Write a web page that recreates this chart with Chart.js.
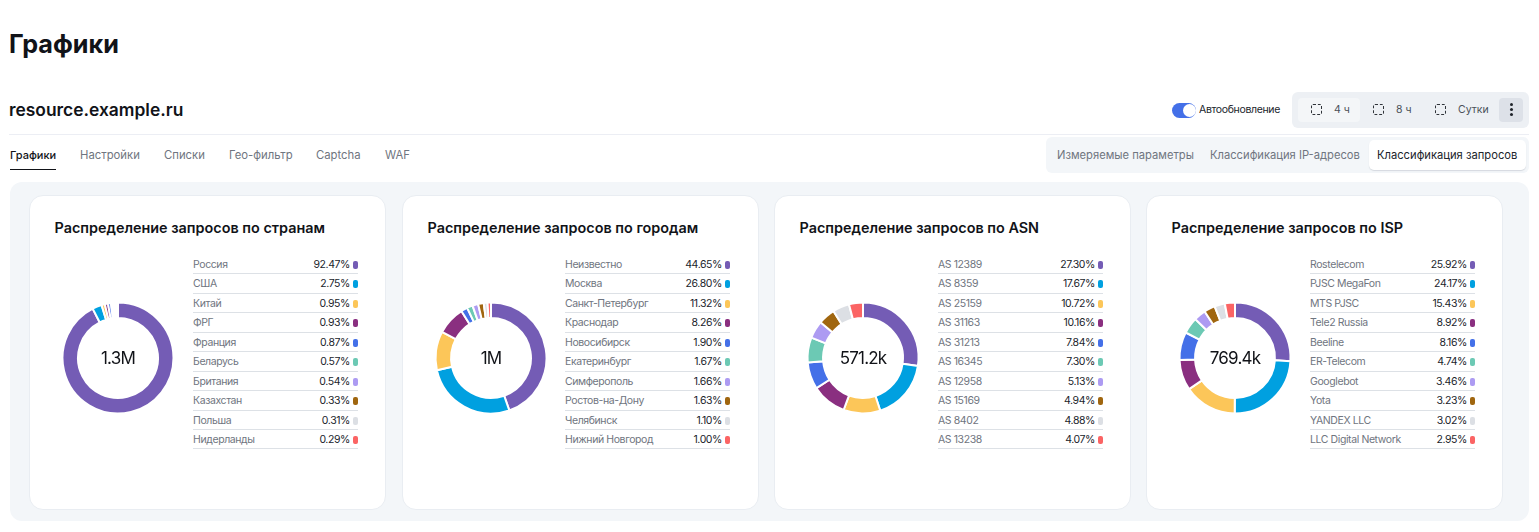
<!DOCTYPE html>
<html lang="ru">
<head>
<meta charset="utf-8">
<title>Графики</title>
<script src="https://cdn.jsdelivr.net/npm/chart.js@4"></script>
<style>
body { margin: 0; width: 1539px; height: 532px; overflow: hidden; background: #fff; font-family: Inter, "Noto Sans", sans-serif; color: #111318; position: relative; }
.abs { position: absolute; white-space: nowrap; }
.panel { left: 10px; top: 182px; width: 1519px; height: 339px; background: #f3f6f9; border-radius: 12px; }
.card { position: absolute; top: 195px; width: 355px; height: 313px; background: #fff; border: 1px solid #e9edf2; border-radius: 14px; }
.card h3 { position: absolute; left: 24.5px; top: 22px; margin: 0; font-size: 14.4px; font-weight: 600; line-height: 20px; white-space: nowrap; }
.card canvas { position: absolute; left: 30px; top: 101px; }
.total { position: absolute; left: 29px; top: 101px; width: 118px; height: 122px; line-height: 122px; text-align: center; font-size: 17px; letter-spacing: -0.8px; }
.legend { position: absolute; top: 59px; width: 165px; }
.row { height: 18.45px; border-bottom: 1px solid #dde1e6; font-size: 10.5px; letter-spacing: -0.4px; line-height: 19px; color: #6f7580; position: relative; }
.row b { position: absolute; right: 8px; top: 0; font-weight: 400; color: #20242b; }
.row i { position: absolute; right: 0; top: 6px; width: 5px; height: 8px; border-radius: 2px; }
.tab { font-size: 11.3px; color: #6f7580; top: 148px; }
.seg { font-size: 11.2px; color: #6f7580; top: 148px; }
.ico { top: 104px; width: 9px; height: 9px; border: 1px dashed #30343a; border-radius: 2px; }
.btn { top: 103px; font-size: 10.5px; color: #4b5058; }
</style>
</head>
<body>
<div class="abs" style="left:9px;top:27px;font-size:25.2px;font-weight:700;line-height:34px">Графики</div>
<div class="abs" style="left:9px;top:98px;font-size:17.4px;font-weight:600;line-height:24px">resource.example.ru</div>
<div class="abs" style="left:9px;top:134px;width:1520px;height:1px;background:#eceef4"></div>

<div class="abs tab" style="left:10px;color:#111318;font-weight:500;font-size:11px">Графики</div>
<div class="abs" style="left:10px;top:169px;width:46px;height:1px;background:#111318"></div>
<div class="abs tab" style="left:80px">Настройки</div>
<div class="abs tab" style="left:164px">Списки</div>
<div class="abs tab" style="left:229px">Гео-фильтр</div>
<div class="abs tab" style="left:316px">Captcha</div>
<div class="abs tab" style="left:385px">WAF</div>

<div class="abs" style="left:1172px;top:103px;width:24px;height:15px;border-radius:8px;background:#4470e8"></div>
<div class="abs" style="left:1183px;top:104px;width:13px;height:13px;border-radius:50%;background:#fff"></div>
<div class="abs" style="left:1199px;top:103px;font-size:10.5px;letter-spacing:-0.35px;color:#20242b">Автообновление</div>

<div class="abs" style="left:1292px;top:92px;width:237px;height:36px;border-radius:6px;background:#edf0f4"></div>
<div class="abs" style="left:1298px;top:98px;width:62px;height:24px;border-radius:4px;background:#f4f6f8"></div>
<div class="abs" style="left:1499px;top:98px;width:24px;height:24px;border-radius:4px;background:#dde1e8"></div>
<div class="abs ico" style="left:1311px"></div>
<div class="abs ico" style="left:1373px"></div>
<div class="abs ico" style="left:1435px"></div>
<div class="abs btn" style="left:1334px">4 ч</div>
<div class="abs btn" style="left:1396px">8 ч</div>
<div class="abs btn" style="left:1458px">Сутки</div>
<div class="abs" style="left:1510px;top:103px;width:3px;height:3px;border-radius:50%;background:#20242b;box-shadow:0 5px 0 #20242b,0 10px 0 #20242b"></div>

<div class="abs" style="left:1046px;top:137px;width:483px;height:36px;border-radius:6px;background:#f3f6f9"></div>
<div class="abs" style="left:1369px;top:140px;width:157px;height:30px;border-radius:5px;background:#fff;box-shadow:0 1px 1px #d5d9df"></div>
<div class="abs seg" style="left:1057px">Измеряемые параметры</div>
<div class="abs seg" style="left:1210px">Классификация IP-адресов</div>
<div class="abs seg" style="left:1377px;color:#20242b">Классификация запросов</div>

<div class="abs panel"></div>
<div id="cards"></div>

<script>
const colors = ['#745cb5', '#00a0e0', '#fcc659', '#8a2f80', '#4470e8', '#6cc9b4', '#ad9bf2', '#a0660f', '#dcdfe4', '#fb6464'];

const titles = ['Распределение запросов по странам', 'Распределение запросов по городам', 'Распределение запросов по ASN', 'Распределение запросов по ISP'];
const totals = ['1.3M', '1M', '571.2k', '769.4k'];
const cardLeft = [29, 402, 774, 1146];
const legendLeft = [163, 162, 163, 163];

const countryLabels = ['Россия', 'США', 'Китай', 'ФРГ', 'Франция', 'Беларусь', 'Британия', 'Казахстан', 'Польша', 'Нидерланды'];
const countryValues = [92.47, 2.75, 0.95, 0.93, 0.87, 0.57, 0.54, 0.33, 0.31, 0.29];

const cityLabels = ['Неизвестно', 'Москва', 'Санкт-Петербург', 'Краснодар', 'Новосибирск', 'Екатеринбург', 'Симферополь', 'Ростов-на-Дону', 'Челябинск', 'Нижний Новгород'];
const cityValues = [44.65, 26.80, 11.32, 8.26, 1.90, 1.67, 1.66, 1.63, 1.10, 1.00];

const asnLabels = ['AS 12389', 'AS 8359', 'AS 25159', 'AS 31163', 'AS 31213', 'AS 16345', 'AS 12958', 'AS 15169', 'AS 8402', 'AS 13238'];
const asnValues = [27.30, 17.67, 10.72, 10.16, 7.84, 7.30, 5.13, 4.94, 4.88, 4.07];

const ispLabels = ['Rostelecom', 'PJSC MegaFon', 'MTS PJSC', 'Tele2 Russia', 'Beeline', 'ER-Telecom', 'Googlebot', 'Yota', 'YANDEX LLC', 'LLC Digital Network'];
const ispValues = [25.92, 24.17, 15.43, 8.92, 8.16, 4.74, 3.46, 3.23, 3.02, 2.95];

const allLabels = [countryLabels, cityLabels, asnLabels, ispLabels];
const allValues = [countryValues, cityValues, asnValues, ispValues];

const wrap = document.getElementById('cards');

titles.forEach((title, n) => {
    const card = document.createElement('div');
    card.className = 'card';
    card.style.left = cardLeft[n] + 'px';

    let rows = '';
    allLabels[n].forEach((label, i) => {
        rows += '<div class="row">' + label + '<b>' + allValues[n][i].toFixed(2) + '%</b><i style="background:' + colors[i] + '"></i></div>';
    });
    card.innerHTML = '<h3>' + title + '</h3>'
        + '<canvas width="116" height="122"></canvas>'
        + '<div class="total">' + totals[n] + '</div>'
        + '<div class="legend" style="left:' + legendLeft[n] + 'px">' + rows + '</div>';
    wrap.appendChild(card);

    new Chart(card.querySelector('canvas').getContext('2d'), {
        type: 'doughnut',
        data: {
            labels: allLabels[n],
            datasets: [{
                data: allValues[n],
                backgroundColor: colors,
                borderColor: '#ffffff',
                borderWidth: 2
            }]
        },
        options: {
            responsive: false,
            animation: false,
            cutout: '72%',
            layout: { padding: 1.5 },
            plugins: {
                legend: { display: false },
                tooltip: { enabled: false }
            }
        }
    });
});
</script>
</body>
</html>
